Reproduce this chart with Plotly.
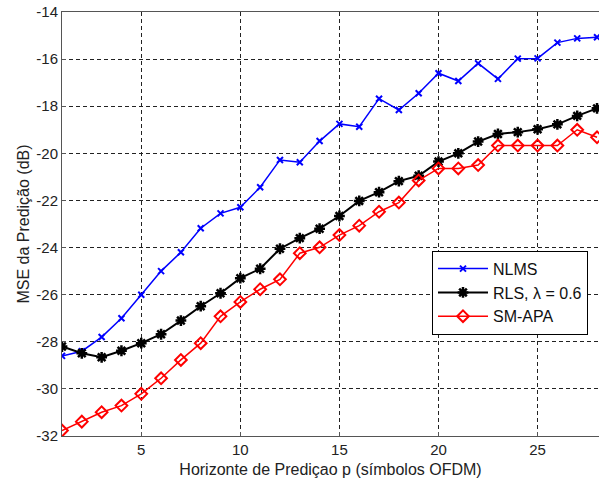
import plotly.graph_objects as go

p = list(range(1, 29))
nlms = [-28.6, -28.4, -27.8, -27.0, -26.0, -25.0, -24.2, -23.18, -22.55, -22.29,
        -21.44, -20.28, -20.38, -19.48, -18.75, -18.87, -17.68, -18.16, -17.45, -16.6,
        -16.93, -16.18, -16.84, -15.98, -15.97, -15.3, -15.12, -15.07]
rls = [-28.2, -28.49, -28.66, -28.38, -28.06, -27.68, -27.1, -26.49, -25.94, -25.3,
       -24.9, -24.05, -23.6, -23.2, -22.66, -22.02, -21.65, -21.18, -20.95, -20.35,
       -20.0, -19.5, -19.18, -19.1, -18.98, -18.77, -18.41, -18.09]
smapa = [-31.77, -31.39, -30.99, -30.71, -30.21, -29.55, -28.77, -28.06, -26.92, -26.31,
         -25.77, -25.35, -24.24, -23.99, -23.47, -23.07, -22.48, -22.09, -21.15, -20.64,
         -20.64, -20.5, -19.67, -19.67, -19.67, -19.67, -19.0, -19.32]

names = ["NLMS", "RLS, λ = 0.6", "SM-APA"]
xticks = [5, 10, 15, 20, 25]
yticks = [-14, -16, -18, -20, -22, -24, -26, -28, -30, -32]
yticktext = ["-14", "-16", "-18", "-20", "-22", "-24", "-26", "-28", "-30", "-32"]

FONT = "Liberation Sans, Arial, sans-serif"

fig = go.Figure()
fig.add_trace(go.Scatter(x=p, y=nlms, name=names[0], mode="lines+markers",
                         line=dict(color="#0000ff", width=1.5),
                         marker=dict(symbol="x-thin-open", size=6,
                                     line=dict(color="#0000ff", width=2))))
fig.add_trace(go.Scatter(x=p, y=rls, name=names[1], mode="lines+markers",
                         line=dict(color="#000000", width=2),
                         marker=dict(symbol="asterisk-open", size=9,
                                     line=dict(color="#000000", width=2.5))))
fig.add_trace(go.Scatter(x=p, y=smapa, name=names[2], mode="lines+markers",
                         line=dict(color="#ff0000", width=1.5),
                         marker=dict(symbol="diamond-open", size=9,
                                     line=dict(color="#ff0000", width=2))))

fig.update_layout(
    width=599, height=485,
    margin=dict(l=62, r=0, t=12, b=49),
    paper_bgcolor="white", plot_bgcolor="white",
    font=dict(family=FONT, size=15, color="#222222"),
    showlegend=True,
    legend=dict(x=0.689, y=0.437, xanchor="left", yanchor="top",
                bgcolor="white", bordercolor="#000000", borderwidth=1,
                font=dict(family=FONT, size=16, color="#111111"),
                tracegroupgap=0, itemwidth=50),
)
fig.update_xaxes(range=[1, 28.1], tickvals=xticks, showgrid=True,
                 gridcolor="#222222", gridwidth=1, griddash="4px,3px",
                 showline=True, linecolor="#555555", linewidth=1, mirror=True,
                 ticks="inside", ticklen=4, tickcolor="#555555", zeroline=False,
                 tickfont=dict(size=15),
                 title=dict(text="Horizonte de Prediçao p (símbolos OFDM)",
                            font=dict(family=FONT, size=16, color="#222222"),
                            standoff=6))
fig.update_yaxes(range=[-32, -14], tickvals=yticks, ticktext=yticktext, showgrid=True,
                 gridcolor="#222222", gridwidth=1, griddash="4px,3px",
                 showline=True, linecolor="#555555", linewidth=1, mirror=True,
                 ticks="inside", ticklen=4, tickcolor="#555555", zeroline=False,
                 tickfont=dict(size=15),
                 title=dict(text="MSE da Predição (dB)",
                            font=dict(family=FONT, size=16, color="#222222"),
                            standoff=2))

fig.write_html("out.html")
